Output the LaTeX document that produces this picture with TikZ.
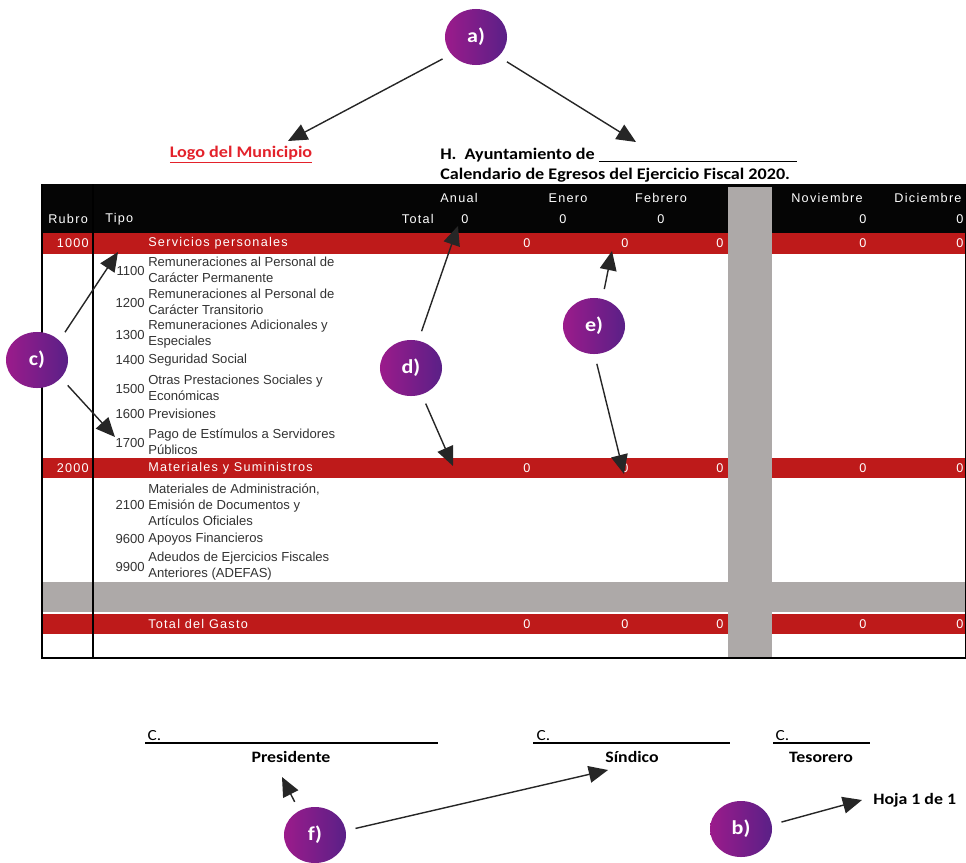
\documentclass[tikz,border=0pt]{standalone}
\usepackage{fontspec}
\setmainfont{Carlito}[FakeStretch=1.12]
\newfontfamily\tabfont[LetterSpace=10]{Liberation Sans}
\newfontfamily\rowfont{Liberation Sans}
\usetikzlibrary{positioning, arrows.meta, shapes.geometric}

\definecolor{barred}{HTML}{BE1A1A}
\definecolor{logored}{HTML}{E3222B}
\definecolor{bargray}{HTML}{ADA9A8}
\definecolor{badgeL}{HTML}{9B1B8B}
\definecolor{badgeR}{HTML}{5A2087}
\definecolor{rowtext}{HTML}{333333}

\begin{document}
\begin{tikzpicture}[
    x=0.025cm, y=-0.025cm,
    badge/.style={ellipse, minimum width=1.55cm, minimum height=1.4cm, inner sep=0pt,
                  left color=badgeL, right color=badgeR, text=white,
                  font=\bfseries\fontsize{14}{14}\selectfont},
    pointer/.style={-{Triangle[length=4.8mm, width=4.2mm]}, line width=1pt, black!85,
                    shorten <=7pt},
    hdrtext/.style={text=white, font=\tabfont\fontsize{9}{10}\selectfont, inner sep=0pt},
    codenum/.style={anchor=east, text=rowtext, font=\rowfont\fontsize{9.3}{11.3}\selectfont, inner sep=0pt},
    rowdesc/.style={anchor=west, align=left, text=rowtext, font=\rowfont\fontsize{9.3}{11.3}\selectfont, inner sep=0pt},
    signtext/.style={font=\bfseries\fontsize{11.3}{13}\selectfont, inner sep=0pt}
]
    \useasboundingbox (0,0) rectangle (966,862);

    % Title block
    \node[text=logored, font=\bfseries\fontsize{11.5}{13}\selectfont] (logo) at (241,155) {\underline{Logo del Municipio}};
    \node[anchor=west, font=\bfseries\fontsize{11.5}{13}\selectfont, inner sep=0pt] (ayto) at (440,155)
        {H.\ \ Ayuntamiento de \rule[-1.5pt]{4.95cm}{0.7pt}};
    \node[anchor=west, font=\bfseries\fontsize{11.5}{13}\selectfont, inner sep=0pt] (calendario) at (440,175)
        {Calendario de Egresos del Ejercicio Fiscal 2020.};

    % Table background
    \fill[black!98] (42,184) rectangle (966,233);
    \fill[barred] (42,233) rectangle (966,254);
    \fill[barred] (42,458) rectangle (966,478);
    \fill[bargray] (42,582) rectangle (966,612);
    \fill[barred] (42,614) rectangle (966,634);
    \fill[bargray] (728,187) rectangle (772,658);

    % Table rules
    \draw[line width=1.5pt] (42,184) -- (42,658) -- (966,658);
    \draw[line width=1.2pt] (93,184) -- (93,658);
    \draw[line width=0.6pt] (965,184) -- (965,658);

    % Header
    \node[hdrtext, anchor=west] (anual) at (440,198) {Anual};
    \node[hdrtext] (enero) at (568,198) {Enero};
    \node[hdrtext] (febrero) at (661,198) {Febrero};
    \node[hdrtext] (noviembre) at (827,198) {Noviembre};
    \node[hdrtext] (diciembre) at (928,198) {Diciembre};
    \node[hdrtext, anchor=west] (rubro) at (48,219) {Rubro};
    \node[hdrtext, anchor=west] (tipo) at (105,219) {Tipo};
    \node[hdrtext, anchor=east] (total) at (434,219) {Total};
    \foreach \x in {465,563,661,863,960}
        \node[hdrtext] (h\x) at (\x,219) {0};

    % Red rows
    \node[hdrtext, anchor=east] (r1000) at (89,243) {1000};
    \node[hdrtext, anchor=west] (servicios) at (148,243) {Servicios personales};
    \node[hdrtext, anchor=east] (r2000) at (89,468) {2000};
    \node[hdrtext, anchor=west] (materiales) at (148,468) {Materiales y Suministros};
    \node[hdrtext, anchor=west] (gasto) at (148,624) {Total del Gasto};
    \foreach \y in {243,468,624}
        \foreach \x in {527,625,720,863,960}
            \node[hdrtext] (v\x-\y) at (\x,\y) {0};

    % Rows of chapter 1000
    \node[codenum] (c1100) at (145,271) {1100};
    \node[rowdesc] (d1100) at (148,270) {Remuneraciones al Personal de\\Carácter Permanente};
    \node[codenum] (c1200) at (145,303) {1200};
    \node[rowdesc] (d1200) at (148,302) {Remuneraciones al Personal de\\Carácter Transitorio};
    \node[codenum] (c1300) at (145,335) {1300};
    \node[rowdesc] (d1300) at (148,334) {Remuneraciones Adicionales y\\Especiales};
    \node[codenum] (c1400) at (145,360) {1400};
    \node[rowdesc] (d1400) at (148,360) {Seguridad Social};
    \node[codenum] (c1500) at (145,389) {1500};
    \node[rowdesc] (d1500) at (148,388) {Otras Prestaciones Sociales y\\Económicas};
    \node[codenum] (c1600) at (145,414) {1600};
    \node[rowdesc] (d1600) at (148,414) {Previsiones};
    \node[codenum] (c1700) at (145,443) {1700};
    \node[rowdesc] (d1700) at (148,442) {Pago de Estímulos a Servidores\\Públicos};

    % Rows of chapter 2000
    \node[codenum] (c2100) at (145,505) {2100};
    \node[rowdesc] (d2100) at (148,505) {Materiales de Administración,\\Emisión de Documentos y\\Artículos Oficiales};
    \node[codenum] (c9600) at (145,539) {9600};
    \node[rowdesc] (d9600) at (148,539) {Apoyos Financieros};
    \node[codenum] (c9900) at (145,567) {9900};
    \node[rowdesc] (d9900) at (148,566) {Adeudos de Ejercicios Fiscales\\Anteriores (ADEFAS)};

    % Signatures
    \node[anchor=south west, font=\fontsize{11}{12}\selectfont, inner sep=1pt] (cpres) at (146,742) {C.};
    \draw[line width=0.9pt] (145,743) -- (438,743);
    \node[signtext] (pres) at (291,757) {Presidente};
    \node[anchor=south west, font=\fontsize{11}{12}\selectfont, inner sep=1pt] (csind) at (535,742) {C.};
    \draw[line width=0.9pt] (533,743) -- (730,743);
    \node[signtext] (sind) at (632,757) {Síndico};
    \node[anchor=south west, font=\fontsize{11}{12}\selectfont, inner sep=1pt] (ctes) at (774,742) {C.};
    \draw[line width=0.9pt] (773,743) -- (870,743);
    \node[signtext] (tes) at (821,757) {Tesorero};
    \node[signtext, anchor=west] (hoja) at (873,800) {Hoja 1 de 1};

    % Badges
    \node[badge] (a) at (476,37) {a)};
    \node[badge] (b) at (741,829) {b)};
    \node[badge] (c) at (37,360) {c)};
    \node[badge] (d) at (411,368) {d)};
    \node[badge] (e) at (594,326) {e)};
    \node[badge] (f) at (315,835) {f)};

    % Arrow tips
    \coordinate (aLtip) at (288,141);
    \coordinate (aRtip) at (636,142);
    \coordinate (bTip) at (862,800);
    \coordinate (cUtip) at (118,252);
    \coordinate (cDtip) at (115,437);
    \coordinate (dUtip) at (458,226);
    \coordinate (dDtip) at (453,466);
    \coordinate (eUtip) at (612,251);
    \coordinate (eDtip) at (624,474);
    \coordinate (fUtip) at (282,777);
    \coordinate (fRtip) at (608,770);

    % Arrows
    \draw[pointer] (a.215) -- (aLtip);
    \draw[pointer] (a.319) -- (aRtip);
    \draw[pointer] (b.8) -- (bTip);
    \draw[pointer] (c.41) -- (cUtip);
    \draw[pointer] (c.323) -- (cDtip);
    \draw[pointer] (d.75) -- (dUtip);
    \draw[pointer] (d.292) -- (dDtip);
    \draw[pointer] (e.73) -- (eUtip);
    \draw[pointer] (e.271) -- (eDtip);
    \draw[pointer] (f.123) -- (fUtip);
    \draw[pointer] (f.8) -- (fRtip);

\end{tikzpicture}
\end{document}
